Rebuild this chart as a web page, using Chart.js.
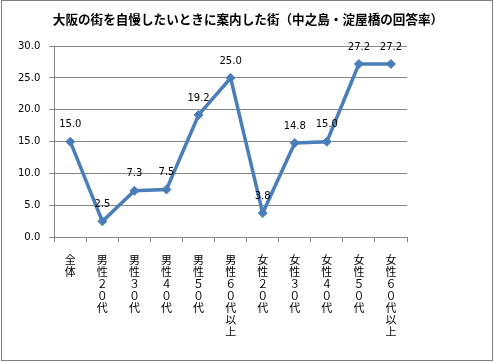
<!DOCTYPE html>
<html>
<head>
<meta charset="utf-8">
<script src="https://cdn.jsdelivr.net/npm/chart.js@4"></script>
<style>
  body { margin: 0; background: #fff; }
  #wrap { position: relative; width: 494px; height: 362px; }
  #frame { position: absolute; left: 1px; top: 0; width: 490px; height: 359px; border: 1px solid #808080; pointer-events: none; }
  canvas { position: absolute; left: 0; top: 0; }
</style>
</head>
<body>
<div id="wrap">
  <canvas id="chart" width="494" height="362"></canvas>
  <div id="frame"></div>
</div>
<script>
const titleText = '大阪の街を自慢したいときに案内した街（中之島・淀屋橋の回答率）';
const categories = ['全体', '男性２０代', '男性３０代', '男性４０代', '男性５０代', '男性６０代以上',
                    '女性２０代', '女性３０代', '女性４０代', '女性５０代', '女性６０代以上'];
const rates = [15.0, 2.5, 7.3, 7.5, 19.2, 25.0, 3.8, 14.8, 15.0, 27.2, 27.2];
const yTicks = [0, 5, 10, 15, 20, 25, 30];

const lineColor = '#4a7ebb';
const gridColor = '#868686';
const numFont = '10px "DejaVu Sans"';

// value labels above each point
const valueLabels = {
    id: 'valueLabels',
    afterDatasetsDraw(chart) {
        const ctx = chart.ctx;
        const meta = chart.getDatasetMeta(0);
        ctx.save();
        ctx.font = numFont;
        ctx.fillStyle = '#000';
        ctx.textAlign = 'center';
        ctx.textBaseline = 'middle';
        meta.data.forEach((pt, i) => {
            ctx.fillText(rates[i].toFixed(1), pt.x, pt.y - 17);
        });
        ctx.restore();
    }
};

new Chart(document.getElementById('chart'), {
    type: 'line',
    data: {
        labels: categories,
        datasets: [{
            data: rates,
            borderColor: lineColor,
            backgroundColor: lineColor,
            borderWidth: 3.5,
            pointStyle: 'rectRot',
            pointRadius: 4.5,
            pointBorderWidth: 1,
            tension: 0
        }]
    },
    options: {
        responsive: false,
        animation: false,
        layout: { padding: { left: 9, right: 7, top: 8, bottom: 13 } },
        plugins: {
            legend: { display: false },
            tooltip: { enabled: false },
            title: {
                display: true,
                text: titleText,
                color: '#000',
                font: { family: '"Noto Sans CJK JP"', size: 12.6, weight: 'bold' },
                padding: { top: 4, bottom: 19 }
            }
        },
        scales: {
            x: {
                offset: true,
                grid: { offset: true, drawOnChartArea: false, drawTicks: true, tickLength: 5, color: gridColor },
                border: { color: gridColor, width: 1 },
                ticks: {
                    autoSkip: false,
                    maxRotation: 0,
                    minRotation: 0,
                    padding: 11,
                    color: '#000',
                    font: { family: '"Noto Sans CJK JP"', size: 11, lineHeight: 1.1 },
                    callback: (v, i) => categories[i].split('')
                }
            },
            y: {
                min: 0,
                max: 30,
                afterBuildTicks: axis => { axis.ticks = yTicks.map(v => ({ value: v })); },
                grid: { color: gridColor, tickLength: 5 },
                border: { color: gridColor, width: 1 },
                ticks: {
                    padding: 9,
                    color: '#000',
                    font: { family: '"DejaVu Sans"', size: 10 },
                    callback: v => v.toFixed(1)
                }
            },
            // empty right margin, as in the original
            yR: {
                position: 'right',
                display: true,
                grid: { display: false, drawTicks: false },
                border: { display: false },
                ticks: { display: false },
                afterFit: s => { s.width = 80; }
            }
        }
    },
    plugins: [valueLabels]
});
</script>
</body>
</html>
